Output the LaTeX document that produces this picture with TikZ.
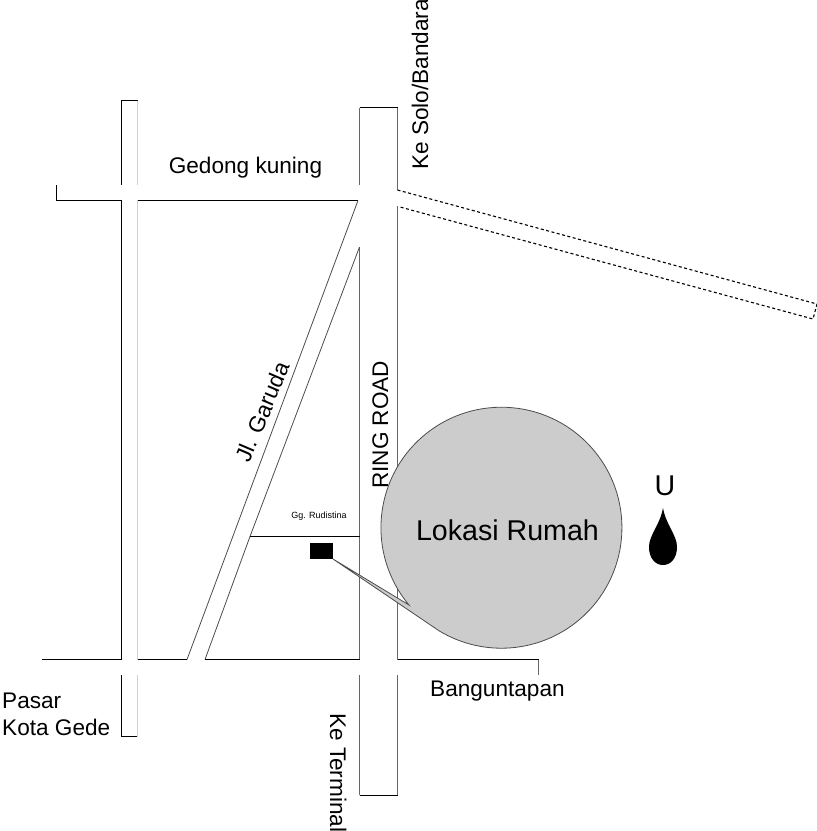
\documentclass[tikz,border=0pt]{standalone}
\usepackage{fontspec}
\setmainfont{Liberation Sans}
\tikzset{
  road/.style={black,line width=1pt},
  roadgray/.style={black!60,line width=1pt},
  roadlight/.style={black!18,line width=1pt},
  roaddiag/.style={black!70,line width=0.8pt},
  roaddash/.style={black,line width=1.1pt,dash pattern=on 3pt off 2.5pt},
  lbl/.style={inner sep=0pt,font=\fontsize{22.6}{26}\selectfont},
  big/.style={inner sep=0pt,font=\fontsize{28.6}{32}\selectfont},
  lokasi/.style={draw=black!70,line width=0.8pt,fill=black!20}
}
\begin{document}
\begin{tikzpicture}[x=1pt,y=-1pt]
\useasboundingbox (0,0) rectangle (817,831);
% left road
\draw[road] (121.5,185) -- (121.5,100.5) -- (137.5,100.5);
\draw[roadlight] (137.5,100.5) -- (137.5,185);
\draw[road] (121.5,200) -- (121.5,660);
\draw[roadlight] (137.5,200) -- (137.5,660);
\draw[road] (121.5,675) -- (121.5,736.5) -- (137.5,736.5);
\draw[roadlight] (137.5,675) -- (137.5,736.5);
% top road
\draw[road] (56.5,185) -- (56.5,200.5) -- (121.5,200.5);
\draw[road] (137.5,200.5) -- (358,200.5);
% ring road
\draw[roadgray] (359.5,185) -- (359.5,107.5);
\draw[road] (359.5,107.5) -- (397.5,107.5);
\draw[roadgray] (397.5,107.5) -- (397.5,190);
\draw[roadgray] (359.5,247) -- (359.5,660);
\draw[roadgray] (397.5,206) -- (397.5,660);
\draw[roadgray] (359.5,675) -- (359.5,795);
\draw[road] (359.5,795.5) -- (397.5,795.5);
\draw[roadgray] (397.5,675) -- (397.5,795);
% Jl. Garuda
\draw[roaddiag] (358,200.5) -- (187,659.5);
\draw[roaddiag] (359.5,247) -- (250,536.5);
\draw[roaddiag] (250,536.5) -- (205,659.5);
\draw[road] (250,536.5) -- (359.5,536.5);
% bottom road
\draw[road] (42,659.5) -- (121.5,659.5);
\draw[road] (137.5,659.5) -- (187,659.5);
\draw[road] (205,659.5) -- (359.5,659.5);
\draw[road] (397.5,659.5) -- (538.5,659.5);
\draw[roadgray] (538.5,659.5) -- (538.5,675);
% dashed road
\draw[roaddash] (397.5,190) -- (817,304) -- (813,319) -- (400,207);
% location circle with its pointer
\draw[lokasi] (333,559) -- (409,605)
  arc[start angle=219.9,end angle=-121.1,radius=120.5pt] -- cycle;
\fill[black] (310,543) rectangle (333,559);
% north mark
\fill[black] (663,508) .. controls (660,525) and (649,535) .. (649,547)
  .. controls (649,558) and (655,565) .. (663,565)
  .. controls (671,565) and (677,558) .. (677,547)
  .. controls (677,535) and (666,525) .. (663,508) -- cycle;
% labels
\node[big,anchor=base] (north) at (665,495) {U};
\node[big,anchor=base] (lok) at (507.5,540) {Lokasi Rumah};
\node[lbl,anchor=base] (ged) at (245.5,173) {Gedong kuning};
\node[lbl,anchor=base west,rotate=90] (solo) at (428,170) {Ke Solo/Bandara};
\node[lbl,anchor=base west,rotate=90] (ring) at (388,489) {RING ROAD};
\node[lbl,anchor=base west,rotate=67] (gar) at (249,464) {Jl. Garuda};
\node[lbl,anchor=base west,rotate=-90] (term) at (330,713) {Ke Terminal};
\node[lbl,anchor=base west] (pas) at (2,708) {Pasar};
\node[lbl,anchor=base west] (kota) at (2,735) {Kota Gede};
\node[lbl,anchor=base west] (bang) at (430,696) {Banguntapan};
\node[inner sep=0pt,font=\fontsize{9}{11}\selectfont,anchor=base] (gg) at (319,518) {Gg. Rudistina};
\end{tikzpicture}
\end{document}
